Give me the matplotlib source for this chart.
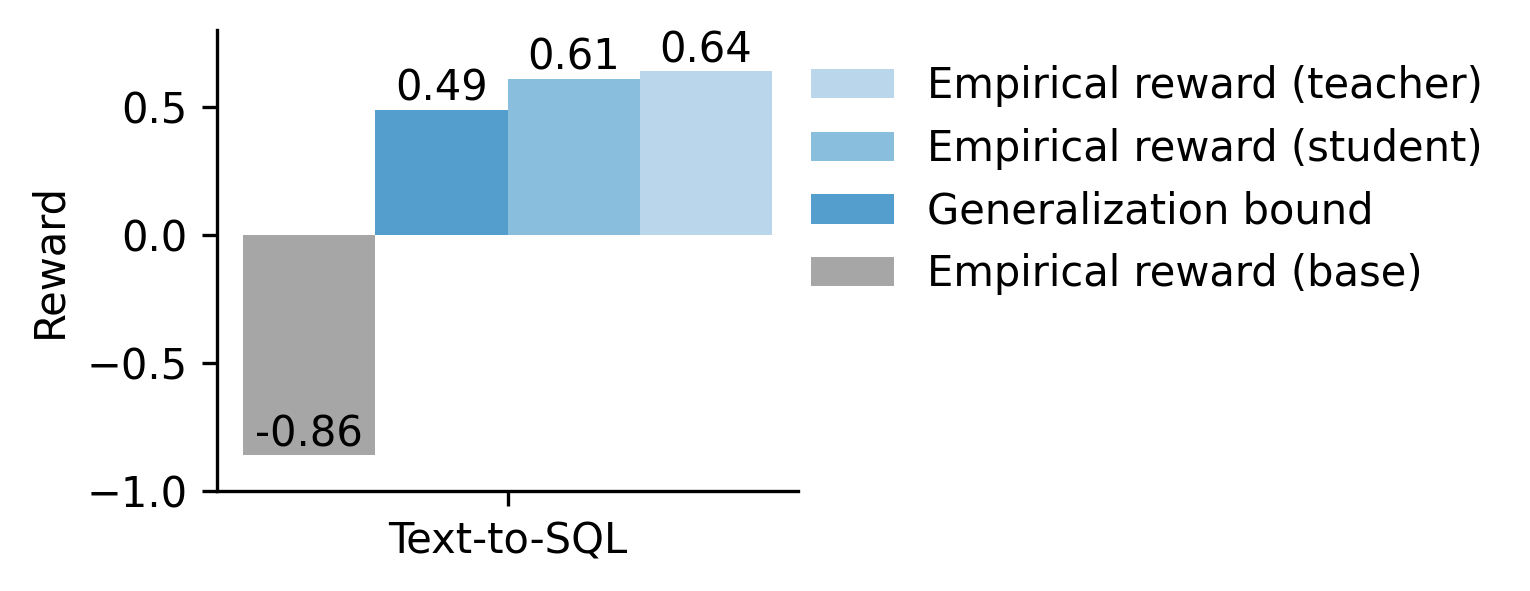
import matplotlib
matplotlib.use("Agg")
import matplotlib.pyplot as plt
import numpy as np

# -------------------------------
# Data
# -------------------------------
category = "Text-to-SQL"
series_labels = [
    "Empirical reward (base)",
    "Generalization bound",
    "Empirical reward (student)",
    "Empirical reward (teacher)",
]
values = [-0.86, 0.49, 0.61, 0.64]
colors = ["#a6a6a6", "#539ecd", "#89bedc", "#bad6eb"]

# -------------------------------
# Plot
# -------------------------------
fig = plt.figure(figsize=(5.1, 1.97), dpi=300)
ax = fig.add_axes([0.1418, 0.1692, 0.3798, 0.7798])

width = 0.2
offsets = (np.arange(len(values)) - (len(values) - 1) / 2) * width

for off, v, c, lab in zip(offsets, values, colors, series_labels):
    ax.bar(off, v, width=width, color=c, label=lab)
    ax.text(off, v, f"{v:.2f}", ha="center", va="bottom", fontsize=10)

ax.set_xticks([0])
ax.set_xticklabels([category])
ax.set_ylabel("Reward")
ax.set_ylim(-1.0, 0.8)
ax.set_yticks([-1.0, -0.5, 0.0, 0.5])
ax.spines["top"].set_visible(False)
ax.spines["right"].set_visible(False)

# legend sits just right of the axes, in reverse order
handles, labels = ax.get_legend_handles_labels()
ax.legend(handles[::-1], labels[::-1], loc="upper left",
          bbox_to_anchor=(0.957, 1.006), frameon=False)

fig.savefig("out.png", dpi=300)
